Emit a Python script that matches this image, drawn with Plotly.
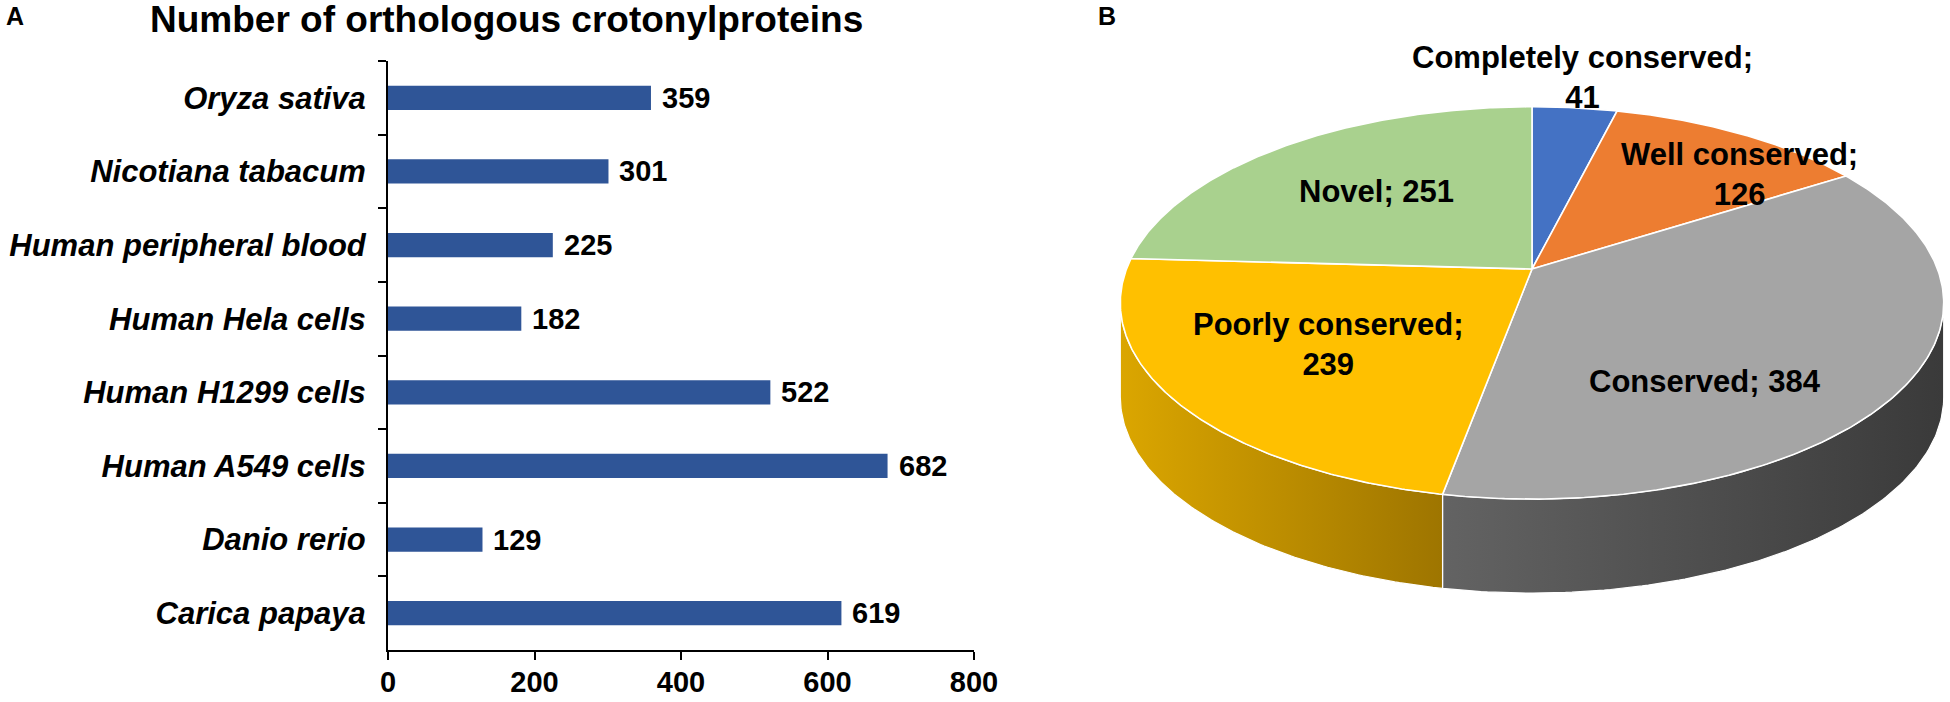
import numpy as np
import plotly.graph_objects as go

W, H = 1950, 702
FONT = "Liberation Sans, Arial, sans-serif"

# ── panel A data ──────────────────────────────────────────────
SPECIES = ["Oryza sativa", "Nicotiana tabacum", "Human peripheral blood",
           "Human Hela cells", "Human H1299 cells", "Human A549 cells",
           "Danio rerio", "Carica papaya"]
COUNTS = [359, 301, 225, 182, 522, 682, 129, 619]
X_TICKS = [0, 200, 400, 600, 800]

# ── panel B data ──────────────────────────────────────────────
GROUPS = ["Completely conserved", "Well conserved", "Conserved",
          "Poorly conserved", "Novel"]
GROUP_N = [41, 126, 384, 239, 251]

# styles
BAR_COLOR = "#2F5597"
SLICE_COLORS = ["#4472C4", "#ED7D31", "#A5A5A5", "#FFC000", "#A9D18E"]
SIDE_GRAD = [("#2f5597", "#203864"), ("#c55a11", "#843c0c"),
             ("#636363", "#3a3a3a"), ("#dba600", "#9e7500"),
             ("#7fa866", "#54703f")]
LABEL_BREAK = [True, True, False, True, False]
LABEL_R = [1.23, 0.78, 0.66, 0.6, 0.6]
LABEL_DA = [0, 10, 20, 0, 0]

# pie geometry (pixels, apex of the tilted disc + perspective factor)
CX, CY = 1532, 269
SX, SY = 405.5, 190.3
K = 0.173
DEPTH = 94


def proj(theta, r=1.0):
    t = np.radians(theta)
    u, v = r * np.sin(t), r * np.cos(t)
    d = 1 + K * v
    return CX + SX * u / d, CY - SY * v / d


fig = go.Figure()

# bars
fig.add_trace(go.Bar(
    x=COUNTS, y=SPECIES, orientation="h",
    marker=dict(color=BAR_COLOR, line=dict(width=0)),
    width=0.33, hoverinfo="skip",
))

# pie — angles from the values, clockwise from 12 o'clock
total = sum(GROUP_N)
cum = np.concatenate([[0], np.cumsum(GROUP_N)]) / total * 360
front_a = np.degrees(np.arccos(-K))
front_b = 360 - front_a

# visible side walls first
for i in range(len(GROUP_N)):
    a, b = max(cum[i], front_a), min(cum[i + 1], front_b)
    if b <= a:
        continue
    th = np.linspace(a, b, 120)
    xs, ys = proj(th)
    px = np.concatenate([xs, xs[::-1], xs[:1]])
    py = np.concatenate([ys, ys[::-1] + DEPTH, ys[:1]])
    c0, c1 = SIDE_GRAD[i]
    fig.add_trace(go.Scatter(
        x=px, y=py, xaxis="x2", yaxis="y2", mode="lines",
        fill="toself", line=dict(color="white", width=1.2),
        fillgradient=dict(type="horizontal", colorscale=[[0, c0], [1, c1]]),
        hoverinfo="skip", showlegend=False,
    ))

# top face slices
for i in range(len(GROUP_N)):
    th = np.linspace(cum[i], cum[i + 1], 200)
    xs, ys = proj(th)
    px = np.concatenate([[CX], xs, [CX]])
    py = np.concatenate([[CY], ys, [CY]])
    fig.add_trace(go.Scatter(
        x=px, y=py, xaxis="x2", yaxis="y2", mode="lines",
        fill="toself", fillcolor=SLICE_COLORS[i],
        line=dict(color="white", width=1.6),
        hoverinfo="skip", showlegend=False,
    ))

annotations = []
for i, (g, n) in enumerate(zip(GROUPS, GROUP_N)):
    mid = (cum[i] + cum[i + 1]) / 2 + LABEL_DA[i]
    lx, ly = proj(mid, LABEL_R[i])
    sep = ";<br>" if LABEL_BREAK[i] else "; "
    annotations.append(dict(
        x=float(lx), y=float(ly), xref="x2", yref="y2",
        text=f"<b>{g}{sep}{n}</b>", showarrow=False,
        font=dict(size=31, color="black", family=FONT),
        xanchor="center", yanchor="middle",
    ))

# value labels on bars
for s, c in zip(SPECIES, COUNTS):
    annotations.append(dict(
        x=c, y=s, xref="x", yref="y", text=f"<b>{c}</b>",
        showarrow=False, xanchor="left", yanchor="middle", xshift=9,
        font=dict(size=29, color="black", family=FONT),
    ))

annotations += [
    dict(x=4 / W, y=1 - 16 / H, xref="paper", yref="paper", text="<b>A</b>",
         showarrow=False, xanchor="left", yanchor="middle",
         font=dict(size=25, color="black", family=FONT)),
    dict(x=1096 / W, y=1 - 16 / H, xref="paper", yref="paper", text="<b>B</b>",
         showarrow=False, xanchor="left", yanchor="middle",
         font=dict(size=25, color="black", family=FONT)),
    dict(x=506 / W, y=1 - 20 / H, xref="paper", yref="paper",
         text="<b>Number of orthologous crotonylproteins</b>",
         showarrow=False, xanchor="center", yanchor="middle",
         font=dict(size=37, color="black", family=FONT)),
]

fig.update_layout(
    template="none",
    width=W, height=H,
    margin=dict(l=0, r=0, t=0, b=0, pad=0),
    paper_bgcolor="white", plot_bgcolor="rgba(0,0,0,0)",
    showlegend=False,
    font=dict(family=FONT, color="black"),
    xaxis=dict(
        domain=[388 / W, 974 / W], range=[0, 800], tickvals=X_TICKS,
        showgrid=False, zeroline=False, showline=True, linecolor="black",
        linewidth=2, ticks="outside", ticklen=8, tickwidth=2, tickcolor="black",
        tickfont=dict(size=29, weight="bold", family=FONT),
        ticklabelstandoff=-3, automargin=False, fixedrange=True,
    ),
    yaxis=dict(
        domain=[(H - 650) / H, (H - 61) / H], type="category",
        autorange="reversed", showgrid=False, zeroline=False,
        showline=True, linecolor="black", linewidth=2,
        ticks="outside", tickson="boundaries", ticklen=8, tickwidth=2,
        tickcolor="black",
        tickfont=dict(size=31, weight="bold", style="italic", family=FONT),
        ticklabelstandoff=14, automargin=False, fixedrange=True,
    ),
    xaxis2=dict(domain=[1060 / W, 1], range=[1060, W], visible=False,
                anchor="y2", fixedrange=True),
    yaxis2=dict(domain=[0, 1], range=[H, 0], visible=False,
                anchor="x2", fixedrange=True),
    annotations=annotations,
)

# drop the browser's default 8px body margin so the figure fills the window
fig.write_html("out.html", config={"displayModeBar": False},
               post_script="document.body.style.margin='0px';")
